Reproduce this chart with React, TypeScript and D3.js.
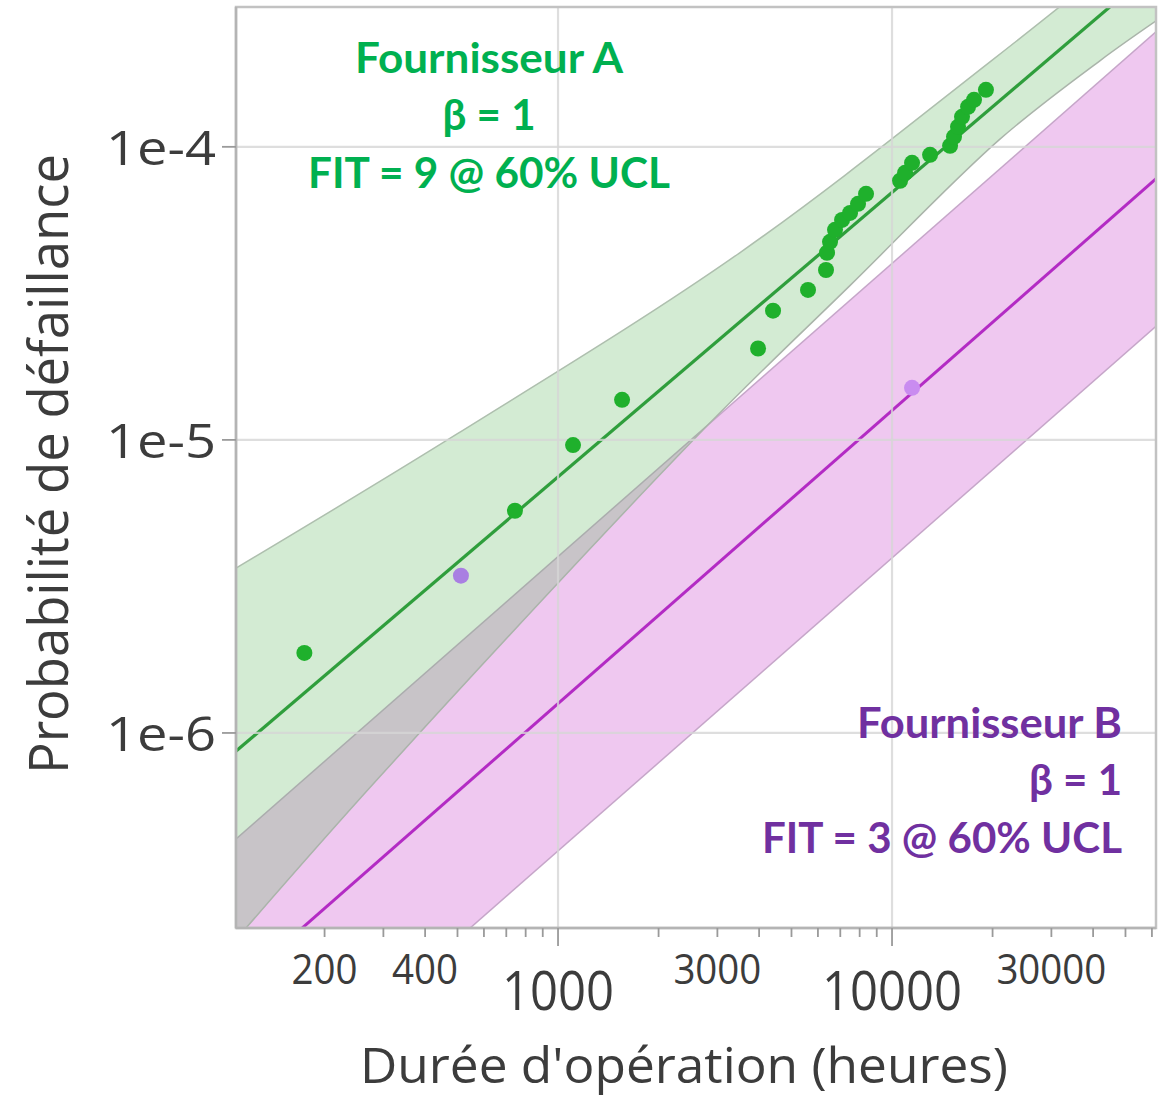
import React from "react";
import * as d3 from "d3";

// Fournisseur A : defaillances observees (heures, probabilite)
const greenTimes = [174, 743, 1109, 1555, 3971, 4403, 5604, 6344, 6388, 6522, 6750, 7086, 7487, 7911, 8360,
  10570, 10940, 11480, 13000, 14920, 15330, 15760, 16200, 16890, 17600, 19110];
const greenProbs = [1.875e-6, 5.73e-6, 9.6e-6, 1.37e-5, 2.05e-5, 2.76e-5, 3.25e-5, 3.8e-5, 4.35e-5, 4.74e-5,
  5.21e-5, 5.63e-5, 5.95e-5, 6.39e-5, 6.91e-5, 7.66e-5, 8.15e-5, 8.82e-5, 9.39e-5, 1.008e-4, 1.082e-4,
  1.17e-4, 1.266e-4, 1.369e-4, 1.447e-4, 1.565e-4];

// Fournisseur B
const purpleTimes = [512, 11480];
const purpleProbs = [3.44e-6, 1.505e-5];

// droites ajustees (extremites)
const fitTimes = [100, 65000];
const greenFit = [8.0e-7, 4.3e-4];
const purpleFit = [1.26e-7, 8.19e-5];

// bandes de confiance
const greenUpperT = [100, 500, 3500, 20000, 65000];
const greenUpperF = [3.45e-6, 1.05e-5, 4.35e-5, 1.98e-4, 5.8e-4];
const greenLowerT = [100, 287, 2716, 7480, 21000, 42000, 65000];
const greenLowerF = [1.77e-7, 6.92e-7, 1.08e-5, 3.36e-5, 1.06e-4, 1.97e-4, 2.8e-4];
const pinkUpperT = [100, 65000];
const pinkUpperF = [4.0e-7, 2.6e-4];
const pinkLowerT = [100, 65000];
const pinkLowerF = [3.96e-8, 2.57e-5];

const xGrid = [1000, 10000];
const yGrid = [1e-4, 1e-5, 1e-6];
const yLabels = ["1e-4", "1e-5", "1e-6"];
const xSmallLabels = [200, 400, 3000, 30000];
const xBigLabels = [1000, 10000];

const zip = (a: number[], b: number[]) => a.map((v, i) => [v, b[i]] as [number, number]);

export default function App() {
  const L = 236, R = 1156, T = 7, B = 928;
  const x = d3.scaleLog().domain([108.6, 61710]).range([L, R]);
  const y = d3.scaleLog().domain([2.16e-7, 3.0e-4]).range([B, T]);

  const line = d3.line<[number, number]>().x(d => x(d[0])).y(d => y(d[1]));
  const curve = d3.line<[number, number]>().x(d => x(d[0])).y(d => y(d[1])).curve(d3.curveCatmullRom.alpha(0.5));

  const band = (up: [number, number][], lo: [number, number][]) =>
    curve(up) + "L" + (curve(lo.slice().reverse()) as string).slice(1) + "Z";

  const gUp = zip(greenUpperT, greenUpperF);
  const gLo = zip(greenLowerT, greenLowerF);
  const pUp = zip(pinkUpperT, pinkUpperF);
  const pLo = zip(pinkLowerT, pinkLowerF);

  const minor = x.ticks().filter(t => t >= x.domain()[0] && t <= x.domain()[1]);
  const isMajor = (t: number) => Math.abs(Math.log10(t) - Math.round(Math.log10(t))) < 1e-9;

  const axisFont = "'Open Sans', 'Noto Sans', sans-serif";
  const annFont = "Lato, 'Open Sans', sans-serif";

  return (
    <svg width={1158} height={1098} style={{ position: "absolute", left: 0, top: 0, background: "#fff" }}>
      <defs>
        <clipPath id="plot">
          <rect x={L} y={T} width={R - L} height={B - T} />
        </clipPath>
      </defs>
      <rect x={0} y={0} width={1158} height={1098} fill="#fff" />
      <g clipPath="url(#plot)">
        <path d={band(pUp, pLo)} fill="#efc8f0" />
        <path d={curve(pUp) as string} fill="none" stroke="#c6a6c9" strokeWidth={1.5} />
        <path d={curve(pLo) as string} fill="none" stroke="#c6a6c9" strokeWidth={1.5} />
        <path d={band(gUp, gLo)} fill="rgb(108,188,108)" fillOpacity={0.3} />
        <path d={curve(gUp) as string} fill="none" stroke="#aebfae" strokeWidth={1.5} />
        <path d={curve(gLo) as string} fill="none" stroke="#aab4aa" strokeWidth={1.5} />
        <path d={line(zip(fitTimes, purpleFit)) as string} fill="none" stroke="#b32bc4" strokeWidth={3} />
        <path d={line(zip(fitTimes, greenFit)) as string} fill="none" stroke="#2f9e3c" strokeWidth={3.2} />
        {xGrid.map(t => (
          <line key={"gx" + t} x1={x(t)} x2={x(t)} y1={T} y2={B} stroke="#d6d6d6" strokeOpacity={0.8} strokeWidth={2.2} />
        ))}
        {yGrid.map(v => (
          <line key={"gy" + v} x1={L} x2={R} y1={y(v)} y2={y(v)} stroke="#d6d6d6" strokeOpacity={0.8} strokeWidth={2.2} />
        ))}
        {greenTimes.map((t, i) => (
          <circle key={"g" + i} cx={x(t)} cy={y(greenProbs[i])} r={8} fill="#1fb02c" />
        ))}
        {purpleTimes.map((t, i) => (
          <circle key={"p" + i} cx={x(t)} cy={y(purpleProbs[i])} r={8} fill={i === 0 ? "#a97fe2" : "#c98cf0"} />
        ))}
      </g>
      <rect x={L} y={T} width={R - L} height={B - T} fill="none" stroke="#c2c2c2" strokeWidth={2.5} />
      <line x1={L} x2={L} y1={T} y2={B} stroke="#b4b4b4" strokeWidth={2.5} />
      <line x1={L} x2={R} y1={B} y2={B} stroke="#b4b4b4" strokeWidth={2.5} />

      {/* axes */}
      {minor.map(t => (
        <line key={"tx" + t} x1={x(t)} x2={x(t)} y1={B} y2={B + (isMajor(t) ? 18 : 9)} stroke="#9a9a9a" strokeWidth={1.8} />
      ))}
      {yGrid.map(v => (
        <line key={"ty" + v} x1={L - 14} x2={L} y1={y(v)} y2={y(v)} stroke="#9a9a9a" strokeWidth={1.8} />
      ))}
      {yGrid.map((v, i) => (
        <text key={"ly" + v} x={216} y={y(v) + 18} textAnchor="end" fontFamily={axisFont} fontSize={48}
          fill="#3c3c3c" textLength={110} lengthAdjust="spacingAndGlyphs">{yLabels[i]}</text>
      ))}
      {xSmallLabels.map(t => (
        <text key={"lxs" + t} x={x(t)} y={984} textAnchor="middle" fontFamily={axisFont} fontSize={42}
          fill="#3c3c3c" textLength={String(t).length * 22} lengthAdjust="spacingAndGlyphs">{t}</text>
      ))}
      {xBigLabels.map(t => (
        <text key={"lxb" + t} x={x(t)} y={1010} textAnchor="middle" fontFamily={axisFont} fontSize={54}
          fill="#3c3c3c" textLength={String(t).length * 28} lengthAdjust="spacingAndGlyphs">{t}</text>
      ))}
      <text x={684} y={1083} textAnchor="middle" fontFamily={axisFont} fontSize={50} fill="#3c3c3c"
        textLength={648} lengthAdjust="spacingAndGlyphs">Durée d'opération (heures)</text>
      <text transform="translate(68,464) rotate(-90)" textAnchor="middle" fontFamily={axisFont} fontSize={54}
        fill="#3c3c3c" textLength={620} lengthAdjust="spacingAndGlyphs">Probabilité de défaillance</text>

      {/* annotations */}
      <g fontFamily={annFont} fontWeight={700} fontSize={42} fill="#00b050" textAnchor="middle">
        <text x={489} y={73} textLength={268} lengthAdjust="spacingAndGlyphs">Fournisseur A</text>
        <text x={489} y={130}>β = 1</text>
        <text x={489} y={188} textLength={362} lengthAdjust="spacingAndGlyphs">FIT = 9 @ 60% UCL</text>
      </g>
      <g fontFamily={annFont} fontWeight={700} fontSize={42} fill="#7030a0" textAnchor="end">
        <text x={1122} y={738} textLength={265} lengthAdjust="spacingAndGlyphs">Fournisseur B</text>
        <text x={1122} y={795}>β = 1</text>
        <text x={1122} y={853} textLength={360} lengthAdjust="spacingAndGlyphs">FIT = 3 @ 60% UCL</text>
      </g>
    </svg>
  );
}
